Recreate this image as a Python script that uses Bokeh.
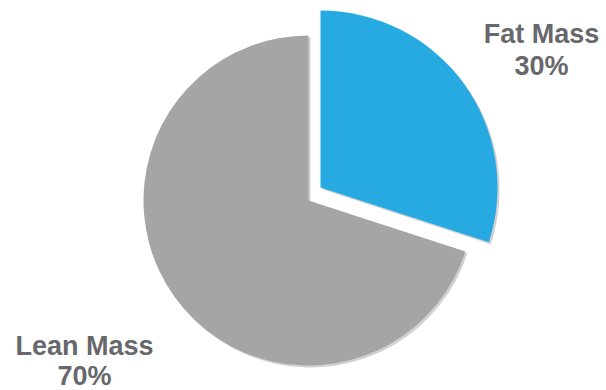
import math
from bokeh.plotting import figure
from bokeh.models import ColumnDataSource
from bokeh.core.properties import value
from bokeh.embed import file_html
from bokeh.resources import INLINE

# ---- data ----
labels = ["Lean Mass", "Fat Mass"]
values = [70, 30]
colors = ["#A5A5A5", "#27AAE1"]

# ---- styles / layout (screen px, y up) ----
W, H = 606, 390
centers_x = [308, 320]
centers_y = [H - 200, H - 187]
radii = [165, 177]
label_x = [84, 541]
label_y1 = [H - 345, H - 33]
label_y2 = [H - 375, H - 65]

total = sum(values)
a0 = math.pi / 2
lean_end = a0 + values[0] / total * 2 * math.pi
starts = [a0, lean_end]
ends = [lean_end, a0 + 2 * math.pi]

src = ColumnDataSource(dict(
    x=centers_x, y=centers_y, r=radii, start=starts, end=ends, color=colors,
    sx=[cx + 2 for cx in centers_x], sy=[cy - 2 for cy in centers_y],
))

p = figure(width=W, height=H, x_range=(0, W), y_range=(0, H),
           output_backend="svg", toolbar_location=None, min_border=0)
p.axis.visible = False
p.grid.visible = False
p.outline_line_color = None
p.background_fill_color = "white"

# soft shadow
p.wedge(x="sx", y="sy", radius="r", start_angle="start", end_angle="end",
        fill_color="black", fill_alpha=0.18, line_color=None, source=src)
p.wedge(x="x", y="y", radius="r", start_angle="start", end_angle="end",
        fill_color="color", line_color=None, source=src)

pct = [f"{round(v / total * 100)}%" for v in values]
tsrc = ColumnDataSource(dict(x=label_x, y1=label_y1, y2=label_y2, name=labels, pct=pct))
for col, ycol in (("name", "y1"), ("pct", "y2")):
    p.text(x="x", y=ycol, text=col, source=tsrc, text_align="center",
           text_baseline="alphabetic", text_font=value("Liberation Sans"),
           text_font_style="bold", text_font_size="27px", text_color="#67686B")

open("out.html", "w").write(file_html(p, INLINE))
